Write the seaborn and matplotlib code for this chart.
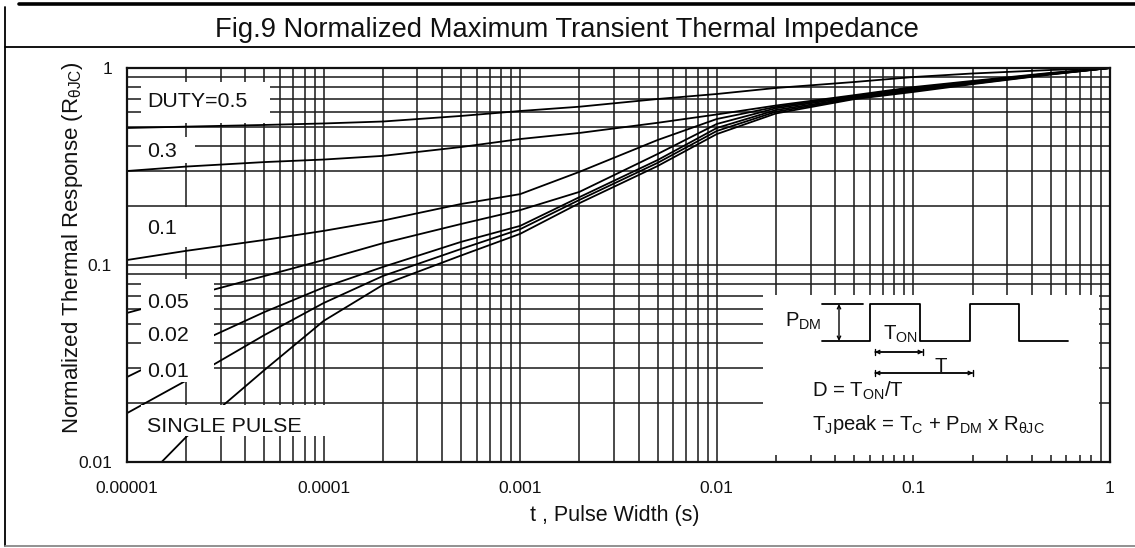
import numpy as np
import pandas as pd
import matplotlib
matplotlib.use("Agg")
import matplotlib.pyplot as plt
import seaborn as sns
from matplotlib.lines import Line2D
from matplotlib.patches import Rectangle
from matplotlib.ticker import FixedLocator, NullFormatter

# ---------------- data ----------------
t = [1e-5, 2e-5, 5e-5, 1e-4, 2e-4, 5e-4, 1e-3, 2e-3, 5e-3, 1e-2,
     2e-2, 5e-2, 0.1, 0.2, 0.5, 1.0]
t_single = [1.5e-5, 2e-5, 5e-5, 1e-4, 2e-4, 5e-4, 1e-3, 2e-3, 5e-3, 1e-2,
            2e-2, 5e-2, 0.1, 0.2, 0.5, 1.0]

z_d05 = [0.496, 0.504, 0.514, 0.523, 0.535, 0.571, 0.605, 0.636, 0.696, 0.738,
         0.792, 0.849, 0.900, 0.938, 0.977, 1.0]
z_d03 = [0.300, 0.316, 0.333, 0.343, 0.358, 0.397, 0.436, 0.468, 0.527, 0.581,
         0.645, 0.728, 0.800, 0.860, 0.945, 1.0]
z_d01 = [0.106, 0.118, 0.134, 0.149, 0.168, 0.204, 0.229, 0.297, 0.431, 0.551,
         0.635, 0.721, 0.792, 0.852, 0.940, 1.0]
z_d005 = [0.0571, 0.0688, 0.0879, 0.106, 0.129, 0.1615, 0.190, 0.235, 0.366, 0.520,
          0.625, 0.713, 0.782, 0.845, 0.936, 1.0]
z_d002 = [0.0270, 0.0379, 0.0577, 0.0769, 0.0977, 0.131, 0.158, 0.221, 0.341, 0.496,
          0.612, 0.705, 0.774, 0.838, 0.932, 1.0]
z_d001 = [0.0177, 0.0259, 0.0441, 0.0641, 0.0879, 0.1206, 0.152, 0.214, 0.330, 0.479,
          0.600, 0.700, 0.766, 0.833, 0.930, 1.0]
z_single = [0.0100, 0.0134, 0.0293, 0.0520, 0.0792, 0.1117, 0.144, 0.206, 0.318, 0.462,
            0.588, 0.695, 0.756, 0.828, 0.927, 1.0]

curve_names = ["0.5", "0.3", "0.1", "0.05", "0.02", "0.01", "single"]
x_ticks = [1e-5, 1e-4, 1e-3, 1e-2, 1e-1, 1]
x_ticklabels = ["0.00001", "0.0001", "0.001", "0.01", "0.1", "1"]
y_ticks = [0.01, 0.1, 1]
y_ticklabels = ["0.01", "0.1", "1"]
title = "Fig.9 Normalized Maximum Transient Thermal Impedance"

frames = []
for name, tt, zz in zip(curve_names,
                        [t, t, t, t, t, t, t_single],
                        [z_d05, z_d03, z_d01, z_d005, z_d002, z_d001, z_single]):
    frames.append(pd.DataFrame({"t": tt, "z": zz, "curve": name}))
df = pd.concat(frames, ignore_index=True)

# ---------------- style ----------------
sns.set_style("white")
plt.rcParams["font.family"] = ["Liberation Sans", "DejaVu Sans"]
plt.rcParams["mathtext.fontset"] = "custom"
plt.rcParams["mathtext.rm"] = "Liberation Sans"
plt.rcParams["mathtext.it"] = "Liberation Sans:italic"
plt.rcParams["mathtext.bf"] = "Liberation Sans:bold"
TXT = "#111111"

W, H = 1135, 548
fig = plt.figure(figsize=(W / 100, H / 100), dpi=100)
AX_L, AX_R, AX_T, AX_B = 127, 1110, 68, 462
ax = fig.add_axes([AX_L / W, 1 - AX_B / H, (AX_R - AX_L) / W, (AX_B - AX_T) / H])


def pa(px, py):
    """pixel position in the picture -> axes fraction"""
    return ((px - AX_L) / (AX_R - AX_L), (AX_B - py) / (AX_B - AX_T))


sns.lineplot(data=df, x="t", y="z", hue="curve", units="curve", estimator=None,
             palette={n: "black" for n in curve_names}, legend=False, sort=False,
             linewidth=1.3, ax=ax, zorder=2)

ax.set_xscale("log")
ax.set_yscale("log")
ax.set_xlim(1e-5, 1)
ax.set_ylim(0.01, 1)

ax.xaxis.set_major_locator(FixedLocator(x_ticks))
ax.set_xticklabels(x_ticklabels)
ax.yaxis.set_major_locator(FixedLocator(y_ticks))
ax.set_yticklabels(y_ticklabels)
xminor = [m * 10.0 ** e for e in range(-5, 0) for m in range(2, 10)]
yminor = [m * 10.0 ** e for e in range(-2, 0) for m in range(2, 10)]
ax.xaxis.set_minor_locator(FixedLocator(xminor))
ax.yaxis.set_minor_locator(FixedLocator(yminor))
ax.xaxis.set_minor_formatter(NullFormatter())
ax.yaxis.set_minor_formatter(NullFormatter())
ax.tick_params(axis="both", which="both", length=0)
ax.tick_params(axis="x", which="major", pad=13.7, labelsize=12.5, labelcolor=TXT)
ax.tick_params(axis="y", which="major", pad=10.8, labelsize=12.5, labelcolor=TXT)

ax.set_axisbelow(True)
ax.grid(True, which="both", color="#202020", linewidth=1.15)
for s in ax.spines.values():
    s.set_color("#111111")
    s.set_linewidth(1.6)

ax.set_xlabel("t , Pulse Width (s)", fontsize=15.5, color=TXT)
ax.xaxis.set_label_coords(0.4965, -0.108)
ax.set_ylabel(r"Normalized Thermal Response (R$_{\mathrm{θJC}}$)", fontsize=16, color=TXT)
ax.yaxis.set_label_coords(-0.0427, 0.543)

# ---------------- white label boxes (hide grid behind labels) ----------------
def white_box(x0, y0, x1, y1):
    ax.add_patch(Rectangle(pa(x0, y1), (x1 - x0) / (AX_R - AX_L), (y1 - y0) / (AX_B - AX_T),
                           transform=ax.transAxes, facecolor="white", edgecolor="none",
                           zorder=3))

white_box(141, 82, 270, 123)     # DUTY=0.5
white_box(141, 137, 195, 163)    # 0.3
white_box(141, 207, 205, 247)    # 0.1
white_box(141, 279, 214, 382)    # 0.05 / 0.02 / 0.01
white_box(141, 405, 327, 436)    # SINGLE PULSE
white_box(763, 295, 1099, 455)   # inset

labels = [("DUTY=0.5", 147, 107), ("0.3", 147, 157), ("0.1", 147, 234),
          ("0.05", 147, 308), ("0.02", 147, 341), ("0.01", 147, 377),
          ("SINGLE PULSE", 147, 432)]
for s, px, py in labels:
    ax.text(*pa(px, py), s, transform=ax.transAxes, fontsize=15.4, color=TXT,
            ha="left", va="baseline", zorder=4)

# ---------------- inset: pulse diagram ----------------
wave_x = [822, 870, 870, 920, 920, 970, 970, 1019, 1019, 1068]
wave_y = [341, 341, 304, 304, 341, 341, 304, 304, 341, 341]
pts = [pa(x, y) for x, y in zip(wave_x, wave_y)]
ax.add_line(Line2D([p[0] for p in pts], [p[1] for p in pts], transform=ax.transAxes,
                   color="black", linewidth=1.3, zorder=4))
p0, p1 = pa(822, 304), pa(863, 304)
ax.add_line(Line2D([p0[0], p1[0]], [p0[1], p1[1]], transform=ax.transAxes,
                   color="black", linewidth=1.3, zorder=4))


def dim(x0, y0, x1, y1, bars=True):
    ax.annotate("", xy=pa(x1, y1), xytext=pa(x0, y0), xycoords="axes fraction",
                textcoords="axes fraction",
                arrowprops=dict(arrowstyle="<->", lw=1.0, color="black",
                                mutation_scale=6, shrinkA=0, shrinkB=0), zorder=4)
    if bars:
        ax.annotate("", xy=pa(x1, y1), xytext=pa(x0, y0), xycoords="axes fraction",
                    textcoords="axes fraction",
                    arrowprops=dict(arrowstyle="|-|,widthA=0.25,widthB=0.25", lw=1.0,
                                    color="black", mutation_scale=10,
                                    shrinkA=0, shrinkB=0), zorder=4)


dim(839, 304, 839, 341, bars=False)
dim(875, 352, 923, 352)
dim(875, 373, 973, 373)

inset_texts = [(r"P$_{\mathrm{DM}}$", 785, 327, "left"),
               (r"T$_{\mathrm{ON}}$", 883, 340, "left"),
               ("T", 941, 372, "center"),
               (r"D = T$_{\mathrm{ON}}$/T", 812, 397, "left"),
               (r"T$_{\mathrm{J}}$peak = T$_{\mathrm{C}}$ + P$_{\mathrm{DM}}$ x R$_{\mathrm{θJC}}$",
                812, 430, "left")]
for s, px, py, ha in inset_texts:
    ax.text(*pa(px, py), s, transform=ax.transAxes, fontsize=14.6, color=TXT,
            ha=ha, va="baseline", zorder=5)

# ---------------- figure frame and title ----------------
def fline(xs, ys, lw, color="black"):
    fig.add_artist(Line2D([x / W for x in xs], [1 - y / H for y in ys],
                          transform=fig.transFigure, color=color, linewidth=lw))

fline([19, W], [3.5, 3.5], 2.6)
fline([5, W], [47, 47], 1.3)
fline([5, 5], [7, 546], 1.3)
fline([5, W], [546, 546], 1.3, color="#888888")

fig.text(567 / W, 1 - 37 / H, title, fontsize=19.7, color=TXT, ha="center", va="baseline")

fig.savefig("out.png", dpi=100, facecolor="white")
